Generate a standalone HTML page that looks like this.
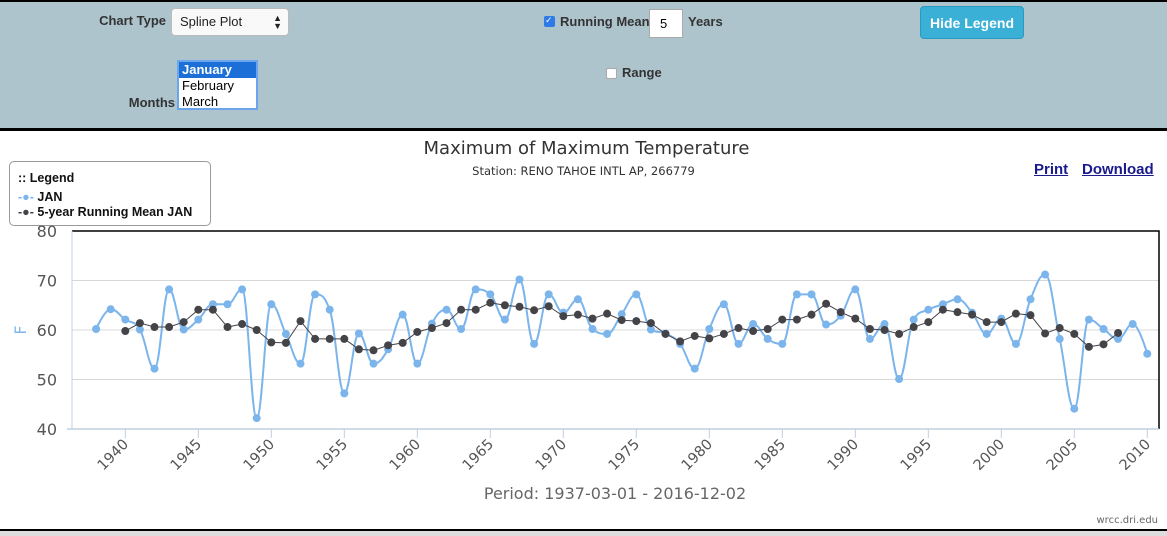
<!DOCTYPE html>
<html><head><meta charset="utf-8">
<style>
body{margin:0;width:1167px;height:534px;overflow:hidden;background:#fff;font-family:"DejaVu Sans","Liberation Sans",sans-serif;position:relative}
#hdr{position:absolute;left:0;top:0;width:1167px;background:#adc4cd;border-top:2px solid #000;border-bottom:3px solid #000;box-sizing:border-box;height:131px;font-family:"Liberation Sans",sans-serif}
.lbl{position:absolute;font-size:13px;color:#333;font-weight:bold;white-space:nowrap}
#sel{position:absolute;left:171px;top:6px;width:118px;height:28px;background:#f9f9f9;border:1px solid #bbb;border-radius:4px;box-sizing:border-box;font-size:13px;padding:5px 8px;color:#222}
#list{position:absolute;left:177px;top:58px;width:81px;height:50px;background:#fff;border:2px solid #6aa5ee;box-sizing:border-box;font-size:13px;overflow:hidden}
#list div{padding:0 3px;height:16px;line-height:16px}
#btn{position:absolute;left:920px;top:4px;width:104px;height:33px;background:#3bb0d6;border-radius:4px;color:#fff;font-size:14px;font-weight:bold;text-align:center;line-height:33px;border:1px solid #2a9ac0;box-sizing:border-box}
.cb{position:absolute;width:11px;height:11px;border-radius:2px;box-sizing:border-box}
#num{position:absolute;left:649px;top:7px;width:34px;height:29px;background:#fff;border:1px solid #aaa;box-sizing:border-box;font-size:13px;padding:6px 10px}
#legend{position:absolute;left:9px;top:161px;width:202px;height:65px;border:1px solid #999;border-radius:5px;box-sizing:border-box;background:#fff;font-size:12.5px;font-weight:bold;color:#111;font-family:"Liberation Sans",sans-serif;white-space:nowrap}
a{color:#1a1a8c;font-weight:bold;font-size:15px;text-decoration:underline;position:absolute;font-family:"Liberation Sans",sans-serif}
#foot{position:absolute;left:0;top:529px;width:1167px;height:5px;background:#ddd;border-top:2px solid #000}
</style></head><body>
<div id="hdr">
 <div class="lbl" style="right:1001px;top:11px">Chart Type</div>
 <div id="sel">Spline Plot<span style="position:absolute;right:6px;top:5px;font-size:9px;line-height:8px">▲<br>▼</span></div>
 <div class="lbl" style="right:992px;top:93px">Months</div>
 <div id="list">
  <div style="background:#1b6fd6;color:#fff;font-weight:bold">January</div>
  <div>February</div>
  <div>March</div>
 </div>
 <div class="cb" style="left:544px;top:14px;background:#2d7ae8"><span style="color:#fff;font-size:9px;position:absolute;left:1px;top:-1px">✓</span></div>
 <div class="lbl" style="left:560px;top:12px">Running Mean</div>
 <div id="num">5</div>
 <div class="lbl" style="left:688px;top:12px">Years</div>
 <div class="cb" style="left:606px;top:66px;background:#fff;border:1px solid #aaa"></div>
 <div class="lbl" style="left:622px;top:63px">Range</div>
 <div id="btn">Hide Legend</div>
</div>
<div style="position:absolute;left:0;width:1167px;top:138px;text-align:center;font-size:18px;color:#333;padding-left:3px">Maximum of Maximum Temperature</div>
<div style="position:absolute;left:0;width:1167px;top:164px;text-align:center;font-size:11.5px;color:#333">Station: RENO TAHOE INTL AP, 266779</div>
<a style="left:1034px;top:161px">Print</a>
<a style="left:1082px;top:161px">Download</a>
<div id="legend">
 <div style="position:absolute;left:8px;top:9px">:: Legend</div>
 <div style="position:absolute;left:8px;top:28px"><span style="color:#7cb5ec">-●-</span> JAN</div>
 <div style="position:absolute;left:8px;top:43px"><span style="color:#434348">-●-</span> 5-year Running Mean JAN</div>
</div>
<svg id="chart" width="1167" height="534" style="position:absolute;left:0;top:0"></svg>
<div style="position:absolute;right:9px;top:515px;font-size:10px;color:#666">wrcc.dri.edu</div>
<div id="foot"></div>
<script>
const years=[1938,1939,1940,1941,1942,1943,1944,1945,1946,1947,1948,1949,1950,1951,1952,1953,1954,1955,1956,1957,1958,1959,1960,1961,1962,1963,1964,1965,1966,1967,1968,1969,1970,1971,1972,1973,1974,1975,1976,1977,1978,1979,1980,1981,1982,1983,1984,1985,1986,1987,1988,1989,1990,1991,1992,1993,1994,1995,1996,1997,1998,1999,2000,2001,2002,2003,2004,2005,2006,2007,2008,2009,2010];
const janValues=[60.2,64.2,62.1,60.1,52.2,68.2,60.1,62.1,65.2,65.2,68.2,42.2,65.2,59.2,53.2,67.2,64.1,47.2,59.3,53.2,56.1,63.1,53.2,61.3,64.1,60.2,68.2,67.2,62.1,70.2,57.2,67.2,63.5,66.2,60.2,59.2,63.2,67.2,60.1,59.3,57.2,52.2,60.2,65.2,57.2,61.2,58.2,57.2,67.2,67.2,61.1,62.9,68.2,58.2,61.2,50.1,62.1,64.1,65.2,66.2,63.5,59.2,62.3,57.2,66.2,71.2,58.2,44.1,62.1,60.2,58.2,61.2,55.2];
const meanYears=years.slice(2,71);
const meanValues=[59.8,61.4,60.6,60.6,61.6,64.1,64.1,60.6,61.2,60.0,57.5,57.4,61.8,58.2,58.2,58.2,56.1,55.9,56.9,57.4,59.6,60.4,61.4,64.1,64.1,65.5,65.0,64.7,64.0,64.8,62.8,63.1,62.3,63.3,62.0,61.8,61.4,59.2,57.7,58.8,58.3,59.2,60.4,59.8,60.2,62.1,62.1,63.1,65.3,63.6,62.3,60.2,60.0,59.2,60.6,61.6,64.1,63.6,63.1,61.6,61.6,63.3,63.0,59.3,60.4,59.2,56.6,57.1,59.4];
const yTicks=[40,50,60,70,80];
const xTicks=[1940,1945,1950,1955,1960,1965,1970,1975,1980,1985,1990,1995,2000,2005,2010];
const NS='http://www.w3.org/2000/svg';
const svg=document.getElementById('chart');
const L=72,R=1159,T=231,B=429;
const xs=y=>125.3+(y-1940)*14.6;
const ys=v=>B-(v-40)*(B-T)/40;
function el(t,a){const e=document.createElementNS(NS,t);for(const k in a)e.setAttribute(k,a[k]);svg.appendChild(e);return e;}
yTicks.forEach(t=>{
 if(t>40){const g=el('line',{x1:L,x2:R,y1:ys(t),y2:ys(t),stroke:'#d8d8d8','stroke-width':1});
 
 }
 const tx=el('text',{x:57,y:ys(t)+6,'text-anchor':'end','font-size':16,fill:'#555','font-family':'DejaVu Sans,sans-serif'});
 tx.textContent=t;
 
 
});
const fr=el('path',{d:`M${L} ${T}H${R}V${B}`,fill:'none',stroke:'#000','stroke-width':1.5});


const ya=el('line',{x1:L,x2:L,y1:T,y2:B,stroke:'#c0cfe0','stroke-width':1});


const xa=el('line',{x1:67,x2:R,y1:B,y2:B,stroke:'#c0cfe0','stroke-width':1.5});


xTicks.forEach(t=>{
 const tk=el('line',{x1:xs(t),x2:xs(t),y1:B,y2:B+9,stroke:'#c0cfe0','stroke-width':1});
 
 
 const tx=el('text',{x:xs(t)+4,y:B+16,'text-anchor':'end','font-size':14.5,fill:'#555','font-family':'DejaVu Sans,sans-serif',transform:`rotate(-45 ${xs(t)+4} ${B+16})`});
 tx.textContent=t;
 
 
});
const yt=el('text',{x:26,y:330,'text-anchor':'middle','font-size':16,fill:'#7cb5ec',transform:'rotate(-90 26 330)'});
yt.textContent='F';


const xt=el('text',{x:615,y:499,'text-anchor':'middle','font-size':16,fill:'#666','font-family':'DejaVu Sans,sans-serif'});
xt.textContent='Period: 1937-03-01 - 2016-12-02';


function spline(p){
 const s=1.5,d=2.5;let path=`M${p[0][0]} ${p[0][1]}`;
 const c=p.map((q,i)=>{
  if(i==0||i==p.length-1)return null;
  const [x,y]=q,[lx,ly]=p[i-1],[nx,ny]=p[i+1];
  let lcx=(s*x+lx)/d,lcy=(s*y+ly)/d,rcx=(s*x+nx)/d,rcy=(s*y+ny)/d;
  const corr=((rcy-lcy)*(rcx-x))/(rcx-lcx)+y-rcy;lcy+=corr;rcy+=corr;
  if(lcy>ly&&lcy>y){lcy=Math.max(ly,y);rcy=2*y-lcy;}else if(lcy<ly&&lcy<y){lcy=Math.min(ly,y);rcy=2*y-lcy;}
  if(rcy>ny&&rcy>y){rcy=Math.max(ny,y);lcy=2*y-rcy;}else if(rcy<ny&&rcy<y){rcy=Math.min(ny,y);lcy=2*y-rcy;}
  return [lcx,lcy,rcx,rcy];
 });
 for(let i=1;i<p.length;i++){
  const a=c[i-1]?[c[i-1][2],c[i-1][3]]:p[i-1];
  const b=c[i]?[c[i][0],c[i][1]]:p[i];
  path+=` C${a[0]} ${a[1]} ${b[0]} ${b[1]} ${p[i][0]} ${p[i][1]}`;
 }
 return path;
}
const jp=years.map((y,i)=>[xs(y),ys(janValues[i])]);
const jl=el('path',{d:spline(jp),fill:'none',stroke:'#7cb5ec','stroke-width':2});


jp.forEach((q,i)=>{
 const m=el('circle',{cx:q[0],cy:q[1],r:4,fill:'#7cb5ec'});
 
 
});
const mp=meanYears.map((y,i)=>[xs(y),ys(meanValues[i])]);
const ml=el('polyline',{points:mp.map(q=>q.join(',')).join(' '),fill:'none',stroke:'#434348','stroke-width':1});


mp.forEach((q,i)=>{
 const m=el('circle',{cx:q[0],cy:q[1],r:4,fill:'#434348'});
 
 
});
</script>
</body></html>
